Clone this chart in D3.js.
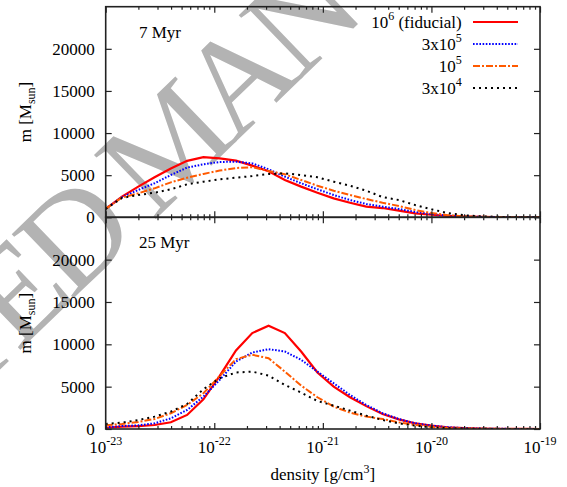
<!DOCTYPE html>
<html><head><meta charset="utf-8">
<script src="https://cdn.jsdelivr.net/npm/d3@7"></script>
<style>body{margin:0;background:#fff}svg{display:block}</style>
</head><body><svg id="c" width="567" height="487"></svg>
<script>
// log10 of density [g/cm^3] for each bin
const logDensity = [-23, -22.85, -22.7, -22.55, -22.4, -22.25, -22.1, -21.95, -21.8, -21.65, -21.5, -21.35, -21.2, -21.05, -20.9, -20.75, -20.6, -20.45, -20.3, -20.15, -20.0, -19.85, -19.7, -19.55, -19.4, -19.25, -19.1, -19.0];

// 7 Myr panel, mass [M_sun]
const m7_fiducial = [1000, 2450, 3640, 4750, 5800, 6700, 7150, 7000, 6730, 6130, 5460, 4430, 3640, 2920, 2250, 1730, 1260, 1100, 790, 470, 300, 160, 80, 40, 20, 10, 5, 0];
const m7_3e5 = [1000, 2400, 3250, 4040, 5020, 5900, 6290, 6570, 6600, 6400, 5700, 4820, 4040, 3330, 2650, 2050, 1580, 1260, 990, 630, 400, 200, 100, 50, 25, 12, 5, 0];
const m7_1e5 = [1000, 2350, 2850, 3440, 4150, 4700, 5150, 5550, 5850, 5950, 5500, 5100, 4430, 3750, 3160, 2650, 2170, 1730, 1340, 870, 500, 250, 120, 60, 30, 15, 5, 0];
const m7_3e4 = [1000, 2300, 2650, 2920, 3330, 3920, 4230, 4510, 4700, 4900, 5140, 5220, 5020, 4750, 4230, 3750, 3160, 2400, 2050, 1460, 950, 500, 250, 120, 60, 30, 10, 0];

// 25 Myr panel, mass [M_sun]
const m25_fiducial = [150, 270, 350, 470, 790, 1660, 3510, 6270, 9270, 11330, 12190, 11330, 9150, 6670, 5010, 3750, 2700, 1780, 1140, 670, 400, 200, 100, 50, 25, 10, 5, 0];
const m25_3e5 = [200, 350, 430, 670, 1260, 2250, 3820, 5800, 7970, 9030, 9430, 9150, 8170, 6780, 5400, 4020, 2840, 1860, 1180, 670, 400, 200, 100, 50, 25, 10, 5, 0];
const m25_1e5 = [440, 590, 830, 1180, 1860, 2840, 4220, 6270, 8250, 8760, 8360, 6780, 5130, 3750, 2640, 1930, 1460, 1180, 790, 470, 250, 120, 60, 30, 15, 5, 0, 0];
const m25_3e4 = [590, 750, 1060, 1460, 2050, 2960, 4700, 6000, 6670, 6780, 6300, 5210, 4300, 3310, 2760, 2170, 1580, 1060, 670, 390, 200, 100, 50, 25, 10, 5, 0, 0];

const panelLabels = ["7 Myr", "25 Myr"];
const legendBase = ["10", "3x10", "10", "3x10"];
const legendSup = ["6", "5", "5", "4"];
const legendTail = [" (fiducial)", "", "", ""];
const yTicks = [0, 5000, 10000, 15000, 20000];
const xMajorExp = [-23, -22, -21, -20, -19];

const svg = d3.select("#c");
const FONT = "'Liberation Serif', 'Times New Roman', serif";
const L = 105.7, R = 540;
const panels = [{top: 6.7, bottom: 217.3}, {top: 217.3, bottom: 429}];

const styles = [
  {color: "#ff0000", dash: null, w: 2.2},
  {color: "#0000ff", dash: "1.6,1.6", w: 2},
  {color: "#ff5a00", dash: "7,2,2,2", w: 2},
  {color: "#000000", dash: "2,4", w: 2}
];

const x = d3.scaleLog().domain([1e-23, 1e-19]).range([L, R]);
const minors = [];
for (let e = -23; e < -19; e++) for (let k = 2; k <= 9; k++) minors.push(k * Math.pow(10, e));
const majors = xMajorExp.map(e => Math.pow(10, e));

// watermark
svg.append("text")
  .attr("transform", "translate(167,142) rotate(-44)")
  .attr("text-anchor", "middle").attr("dy", "0.35em")
  .attr("font-family", FONT).attr("font-size", 136)
  .attr("letter-spacing", -9)
  .attr("fill", "#b3b3b3")
  .text("ACCEPTED MANUSCRIPT");

const data7 = [m7_fiducial, m7_3e5, m7_1e5, m7_3e4];
const data25 = [m25_fiducial, m25_3e5, m25_1e5, m25_3e4];
const allData = [data7, data25];

panels.forEach((p, pi) => {
  const y = d3.scaleLinear().domain([0, 25000]).range([p.bottom, p.top]);
  const g = svg.append("g");
  const clipId = "clip" + pi;
  svg.append("clipPath").attr("id", clipId).append("rect")
    .attr("x", L).attr("y", p.top).attr("width", R - L).attr("height", p.bottom - p.top);

  const line = d3.line().x((d, i) => x(Math.pow(10, logDensity[i]))).y(d => y(d));
  allData[pi].forEach((arr, si) => {
    const s = styles[si];
    g.append("path").datum(arr)
      .attr("clip-path", `url(#${clipId})`)
      .attr("d", line).attr("fill", "none")
      .attr("stroke", s.color).attr("stroke-width", s.w)
      .attr("stroke-dasharray", s.dash);
  });

  const axL = d3.axisLeft(y).tickValues(yTicks).tickSize(-6).tickPadding(11).tickFormat(d3.format("d"));
  const gl = g.append("g").attr("transform", `translate(${L},0)`).call(axL);
  gl.attr("font-family", FONT).attr("font-size", 17);
  gl.selectAll("text").attr("font-family", FONT).attr("font-size", 17).attr("fill", "#000");
  const axR = d3.axisRight(y).tickValues(yTicks).tickSize(-6).tickFormat("");
  g.append("g").attr("transform", `translate(${R},0)`).call(axR);

  const topAx = d3.axisTop(x).tickValues(majors).tickSize(-6).tickFormat("");
  const topMin = d3.axisTop(x).tickValues(minors).tickSize(-3).tickFormat("");
  g.append("g").attr("transform", `translate(0,${p.top})`).call(topAx);
  g.append("g").attr("transform", `translate(0,${p.top})`).call(topMin);
  const botAx = d3.axisBottom(x).tickValues(majors).tickSize(-6).tickFormat("");
  const botMin = d3.axisBottom(x).tickValues(minors).tickSize(-3).tickFormat("");
  g.append("g").attr("transform", `translate(0,${p.bottom})`).call(botAx);
  g.append("g").attr("transform", `translate(0,${p.bottom})`).call(botMin);

  g.selectAll(".domain").remove();
  g.selectAll(".tick line").attr("stroke", "#222").attr("stroke-width", 1.2);

  g.append("rect").attr("x", L).attr("y", p.top).attr("width", R - L).attr("height", p.bottom - p.top)
    .attr("fill", "none").attr("stroke", "#222").attr("stroke-width", 1.6);

  g.append("text").attr("x", 139).attr("y", p.top + 31)
    .attr("font-family", FONT).attr("font-size", 17).text(panelLabels[pi]);

  const yl = g.append("text")
    .attr("transform", `translate(31,${(p.top + p.bottom) / 2}) rotate(-90)`)
    .attr("text-anchor", "middle").attr("font-family", FONT).attr("font-size", 17);
  yl.append("tspan").text("m [M");
  yl.append("tspan").attr("font-size", 12).attr("dy", 4).text("sun");
  yl.append("tspan").attr("dy", -4).text("]");
});

const xl = svg.append("g");
majors.forEach((v, i) => {
  const t = xl.append("text").attr("x", x(v)).attr("y", 453).attr("text-anchor", "middle")
    .attr("font-family", FONT).attr("font-size", 17);
  t.append("tspan").text("10");
  t.append("tspan").attr("font-size", 12).attr("dy", -8).text(String(xMajorExp[i]));
});
const xt = svg.append("text").attr("x", (L + R) / 2).attr("y", 480).attr("text-anchor", "middle")
  .attr("font-family", FONT).attr("font-size", 17);
xt.append("tspan").text("density [g/cm");
xt.append("tspan").attr("font-size", 12).attr("dy", -7).text("3");
xt.append("tspan").attr("dy", 7).text("]");

const lg = svg.append("g");
legendBase.forEach((b, i) => {
  const by = 28 + i * 22;
  const t = lg.append("text").attr("x", 461.7).attr("y", by).attr("text-anchor", "end")
    .attr("font-family", FONT).attr("font-size", 17);
  t.append("tspan").text(b);
  t.append("tspan").attr("font-size", 12).attr("dy", -8).text(legendSup[i]);
  if (legendTail[i]) t.append("tspan").attr("dy", 8).text(legendTail[i]);
  const s = styles[i];
  lg.append("line").attr("x1", 473).attr("x2", 518).attr("y1", by - 6).attr("y2", by - 6)
    .attr("stroke", s.color).attr("stroke-width", s.w).attr("stroke-dasharray", s.dash);
});
</script></body></html>
